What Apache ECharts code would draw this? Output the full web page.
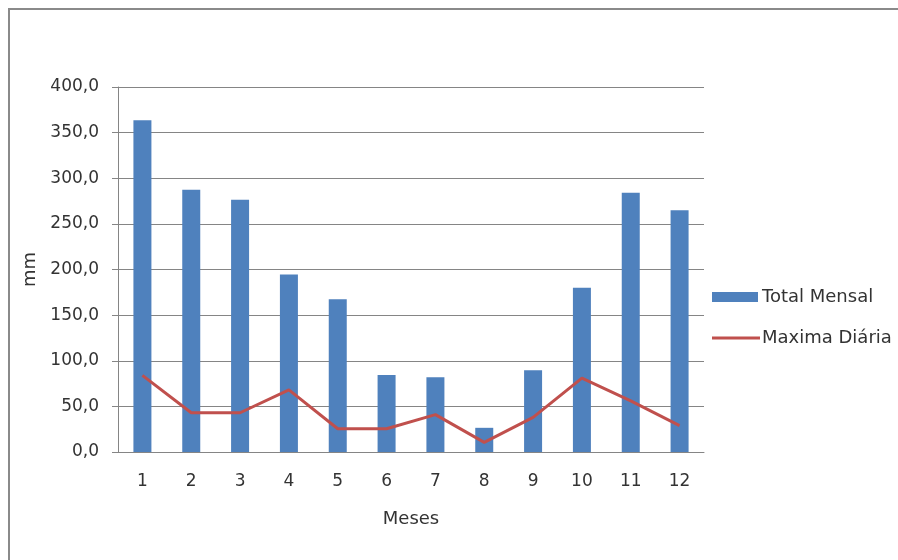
<!DOCTYPE html>
<html>
<head>
<meta charset="utf-8">
<script src="https://cdn.jsdelivr.net/npm/echarts@6/dist/echarts.min.js"></script>
<style>
  html, body { margin: 0; padding: 0; background: #fff; }
  #chart { width: 898px; height: 560px; }
</style>
</head>
<body>
<div id="chart"></div>
<script>
// Monthly rainfall: total per month and the largest single-day value
const months = ['1', '2', '3', '4', '5', '6', '7', '8', '9', '10', '11', '12'];
const totalMensal = [363.5, 287.5, 276.5, 194.5, 167.5, 84.5, 82.0, 26.5, 89.5, 180.0, 284.0, 265.0];
const maximaDiaria = [84.0, 43.0, 43.0, 68.0, 25.5, 25.5, 41.0, 10.5, 38.0, 81.0, 56.0, 29.0];
const yTicks = { min: 0, max: 400, interval: 50 };

const FONT = 'DejaVu Sans';
const TEXT = '#333333';
const GRID = '#858585';

const chart = echarts.init(document.getElementById('chart'), null, { renderer: 'canvas' });

chart.setOption({
  backgroundColor: '#ffffff',
  animation: false,
  textStyle: { fontFamily: FONT, color: TEXT },
  graphic: [
    // frame along the top and left edges
    {
      type: 'polyline',
      shape: { points: [[9, 560], [9, 9], [898, 9]] },
      style: { stroke: '#8a8a8a', lineWidth: 2, fill: null },
      silent: true
    }
  ],
  grid: { left: 118, top: 87, right: 194, bottom: 108 },
  legend: [
    {
      left: 707, top: 283,
      itemWidth: 46, itemHeight: 10,
      textStyle: { fontFamily: FONT, fontSize: 18, color: TEXT, padding: [0, 0, 0, -1] },
      data: [{ name: 'Total Mensal', icon: 'rect' }]
    },
    {
      left: 707, top: 324,
      itemWidth: 48, itemHeight: 3,
      textStyle: { fontFamily: FONT, fontSize: 18, color: TEXT, padding: [0, 0, 0, -3] },
      data: [{ name: 'Maxima Diária', icon: 'rect' }]
    }
  ],
  xAxis: {
    type: 'category',
    data: months,
    name: 'Meses',
    nameLocation: 'middle',
    nameGap: 58,
    nameTextStyle: { fontFamily: FONT, fontSize: 18, color: TEXT },
    axisLine: { lineStyle: { color: GRID, width: 1 } },
    axisTick: { show: false },
    axisLabel: { fontFamily: FONT, fontSize: 17, color: TEXT, margin: 21 },
    splitLine: { show: false }
  },
  yAxis: {
    type: 'value',
    min: yTicks.min,
    max: yTicks.max,
    interval: yTicks.interval,
    name: 'mm',
    nameLocation: 'middle',
    nameRotate: 90,
    nameGap: 73,
    nameTextStyle: { fontFamily: FONT, fontSize: 18, color: TEXT },
    axisLine: { show: true, lineStyle: { color: GRID, width: 1 } },
    axisTick: { show: true, length: 6, lineStyle: { color: GRID } },
    axisLabel: {
      fontFamily: FONT, fontSize: 17, color: TEXT, margin: 19,
      formatter: v => v.toFixed(1).replace('.', ',')
    },
    splitLine: { show: true, lineStyle: { color: GRID, width: 1 } }
  },
  series: [
    {
      name: 'Total Mensal',
      type: 'bar',
      data: totalMensal,
      barWidth: 18,
      itemStyle: { color: '#4f81bd' }
    },
    {
      name: 'Maxima Diária',
      type: 'line',
      data: maximaDiaria,
      symbol: 'none',
      showSymbol: false,
      lineStyle: { color: '#c0504d', width: 3 },
      itemStyle: { color: '#c0504d' }
    }
  ]
});
</script>
</body>
</html>
